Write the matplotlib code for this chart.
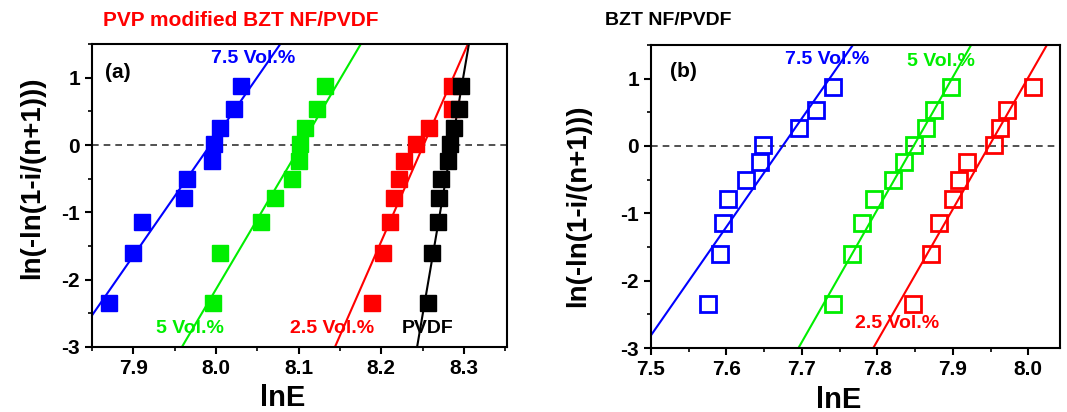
import matplotlib
matplotlib.use("Agg")
import matplotlib.pyplot as plt
from matplotlib.ticker import MultipleLocator
import numpy as np

plt.rcParams['font.family'] = ['Liberation Sans', 'DejaVu Sans']
plt.rcParams['font.weight'] = 'bold'
plt.rcParams['axes.unicode_minus'] = False

# Weibull ordinate ln(-ln(1-i/(n+1))) for the 10 samples
weibull_y = [-2.35, -1.61, -1.14, -0.79, -0.50, -0.24, 0.01, 0.26, 0.53, 0.87]

# panel (a): PVP modified BZT NF/PVDF, lnE of each sample
a_vol75 = [7.870, 7.900, 7.911, 7.961, 7.965, 7.995, 7.998, 8.005, 8.022, 8.030]
a_vol5 = [7.996, 8.005, 8.055, 8.071, 8.092, 8.100, 8.102, 8.108, 8.122, 8.132]
a_vol25 = [8.189, 8.202, 8.211, 8.215, 8.221, 8.227, 8.242, 8.258, 8.285, 8.286]
a_pvdf = [8.256, 8.261, 8.269, 8.270, 8.272, 8.281, 8.283, 8.288, 8.294, 8.296]

# panel (b): BZT NF/PVDF
b_vol75 = [7.576, 7.592, 7.596, 7.602, 7.626, 7.645, 7.649, 7.696, 7.719, 7.741]
b_vol5 = [7.741, 7.767, 7.779, 7.796, 7.821, 7.835, 7.848, 7.864, 7.875, 7.897]
b_vol25 = [7.847, 7.871, 7.882, 7.900, 7.908, 7.919, 7.955, 7.962, 7.972, 8.006]

# Weibull fits: shape parameter beta and lnE at y = 0
a_beta = [17.7, 20.8, 28.0, 71.8]
a_lnE0 = [7.993, 8.103, 8.251, 8.285]
b_beta = [16.1, 19.65, 19.54]
b_lnE0 = [7.6745, 7.848, 7.948]

a_labels = ['7.5 Vol.%', '5 Vol.%', '2.5 Vol.%', 'PVDF']
b_labels = ['7.5 Vol.%', '5 Vol.%', '2.5 Vol.%']
colors = ['#0000ff', '#00ee00', '#ff0000', '#000000']


def style_axes(ax, xlim):
    '''common axis look of both panels'''
    ax.set_xlim(xlim)
    ax.set_ylim(-3, 1.5)
    ax.xaxis.set_major_locator(MultipleLocator(0.1))
    ax.xaxis.set_minor_locator(MultipleLocator(0.05))
    ax.yaxis.set_major_locator(MultipleLocator(1))
    ax.yaxis.set_minor_locator(MultipleLocator(0.5))
    ax.set_yticks([-3, -2, -1, 0, 1])
    ax.tick_params(which='major', direction='out', length=5, width=1.5,
                   labelsize=15, top=False, right=False)
    ax.tick_params(which='minor', direction='out', length=3, width=1.2,
                   top=False, right=False)
    for lab in ax.get_xticklabels() + ax.get_yticklabels():
        lab.set_fontweight('bold')
    for sp in ax.spines.values():
        sp.set_linewidth(1.5)
    ax.axhline(0, color='#333333', linestyle=(0, (4, 3)), linewidth=1.2,
               zorder=1)
    ax.set_xlabel('lnE', fontsize=21, fontweight='bold')
    ax.xaxis.label.set_va('center')
    ax.xaxis.set_label_coords(0.46, -0.17)
    ax.set_ylabel('ln(-ln(1-i/(n+1)))', fontsize=20, fontweight='bold')
    ax.yaxis.label.set_va('center')


fig = plt.figure(figsize=(10.67, 4.12), dpi=100)
ax_a = fig.add_axes([0.0862, 0.1578, 0.389, 0.7352])
ax_b = fig.add_axes([0.6101, 0.155, 0.3833, 0.736])

# ---- panel (a), filled squares
xlim_a = (7.85, 8.352)
style_axes(ax_a, xlim_a)
xs = np.linspace(xlim_a[0], xlim_a[1], 200)
for i, data in enumerate([a_vol75, a_vol5, a_vol25, a_pvdf]):
    ax_a.plot(xs, a_beta[i] * (xs - a_lnE0[i]), color=colors[i], lw=1.5,
              zorder=2)
    ax_a.plot(data, weibull_y, 's', color=colors[i], markersize=12,
              linestyle='none', zorder=3)
ax_a.yaxis.set_label_coords(-0.145, 0.56)

ax_a.text(7.866, 1.08, '(a)', fontsize=15, fontweight='bold', va='center')
ax_a.text(7.9945, 1.29, a_labels[0], color=colors[0], fontsize=14,
          fontweight='bold', va='center')
ax_a.text(7.928, -2.72, a_labels[1], color=colors[1], fontsize=14,
          fontweight='bold', va='center')
ax_a.text(8.090, -2.72, a_labels[2], color=colors[2], fontsize=14,
          fontweight='bold', va='center')
ax_a.text(8.225, -2.72, a_labels[3], color=colors[3], fontsize=14,
          fontweight='bold', va='center')

# ---- panel (b), open squares
xlim_b = (7.5, 8.042)
style_axes(ax_b, xlim_b)
xs = np.linspace(xlim_b[0], xlim_b[1], 200)
for i, data in enumerate([b_vol75, b_vol5, b_vol25]):
    ax_b.plot(xs, b_beta[i] * (xs - b_lnE0[i]), color=colors[i], lw=1.5,
              zorder=2)
    ax_b.plot(data, weibull_y, 's', markerfacecolor='none',
              markeredgecolor=colors[i], markeredgewidth=2, markersize=11,
              linestyle='none', zorder=3)
ax_b.yaxis.set_label_coords(-0.178, 0.47)

ax_b.text(7.525, 1.11, '(b)', fontsize=15, fontweight='bold', va='center')
ax_b.text(7.678, 1.29, b_labels[0], color=colors[0], fontsize=14,
          fontweight='bold', va='center')
ax_b.text(7.8395, 1.26, b_labels[1], color=colors[1], fontsize=14,
          fontweight='bold', va='center')
ax_b.text(7.7705, -2.64, b_labels[2], color=colors[2], fontsize=14,
          fontweight='bold', va='center')

# panel titles
fig.text(0.0965, 0.951, 'PVP modified BZT NF/PVDF', color='#ff0000',
         fontsize=15, fontweight='bold', va='center')
fig.text(0.567, 0.951, 'BZT NF/PVDF', color='#000000', fontsize=14,
         fontweight='bold', va='center')

fig.savefig('out.png', dpi=100)
